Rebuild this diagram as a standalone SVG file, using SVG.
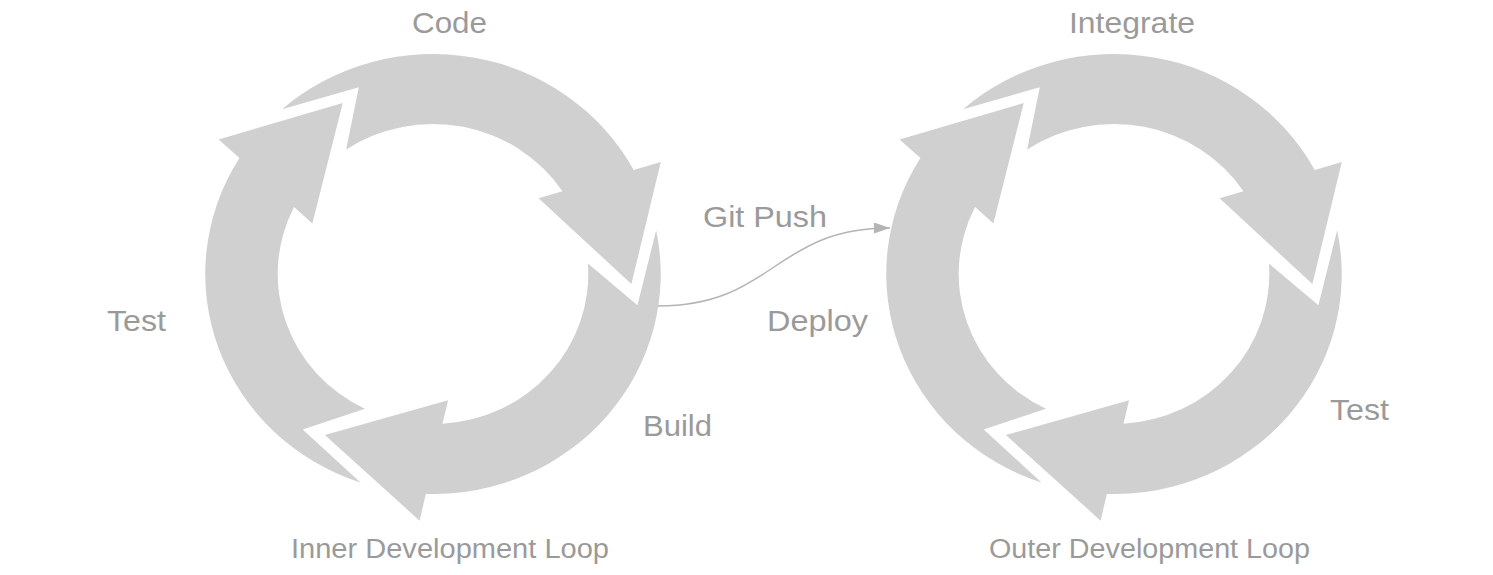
<svg xmlns="http://www.w3.org/2000/svg" xmlns:xlink="http://www.w3.org/1999/xlink" width="1493" height="575" viewBox="0 0 1493 575">
<style>
.seg{fill:#d0d0d0;}
.lbl{font-family:"Liberation Sans",Arial,sans-serif;font-size:30px;fill:#9a9a9a;}
.cap{font-family:"Liberation Sans",Arial,sans-serif;font-size:27px;fill:#9a9a9a;}
.conn{fill:none;stroke:#b4b4b4;stroke-width:1.5;}
</style>
<defs>
<path id="seg" class="seg" d="M -145.8 -164.8 A 220 220 0 0 1 193.9 -104.0 L 220.1 -112.1 L 191.7 10.0 L 102.0 -75.7 L 125.1 -82.8 A 150 150 0 0 0 -83.9 -124.4 L -71.7 -186.7 Z"/>
<g id="cycle">
<use xlink:href="#seg" href="#seg"/>
<use xlink:href="#seg" href="#seg" transform="rotate(120)"/>
<use xlink:href="#seg" href="#seg" transform="rotate(240)"/>
</g>
<marker id="ah" markerUnits="userSpaceOnUse" markerWidth="16" markerHeight="11" refX="16" refY="5.5" orient="auto">
<path d="M0 0 L16 5.5 L0 11 Z" fill="#b4b4b4"/>
</marker>
</defs>
<rect width="1493" height="575" fill="#ffffff"/>
<g id="inner-loop">
<use xlink:href="#cycle" href="#cycle" transform="translate(433 274) scale(1.035 1)"/>
<text class="lbl" x="412" y="33" textLength="75" lengthAdjust="spacingAndGlyphs">Code</text>
<text class="lbl" x="643" y="436" textLength="69" lengthAdjust="spacingAndGlyphs">Build</text>
<text class="lbl" x="107" y="331" textLength="59" lengthAdjust="spacingAndGlyphs">Test</text>
<text class="cap" x="291" y="558" textLength="318" lengthAdjust="spacingAndGlyphs">Inner Development Loop</text>
</g>
<g id="outer-loop">
<use xlink:href="#cycle" href="#cycle" transform="translate(1114 274) scale(1.035 1)"/>
<text class="lbl" x="1069" y="33" textLength="126" lengthAdjust="spacingAndGlyphs">Integrate</text>
<text class="lbl" x="1330" y="420" textLength="59" lengthAdjust="spacingAndGlyphs">Test</text>
<text class="cap" x="989" y="558" textLength="321" lengthAdjust="spacingAndGlyphs">Outer Development Loop</text>
</g>
<g id="connectors">
<path class="conn" d="M658 306 C774 306 774 228 890 228" marker-end="url(#ah)"/>
<text class="lbl" x="703" y="227" textLength="124" lengthAdjust="spacingAndGlyphs">Git Push</text>
<text class="lbl" x="767" y="331" textLength="101" lengthAdjust="spacingAndGlyphs">Deploy</text>
</g>
</svg>
